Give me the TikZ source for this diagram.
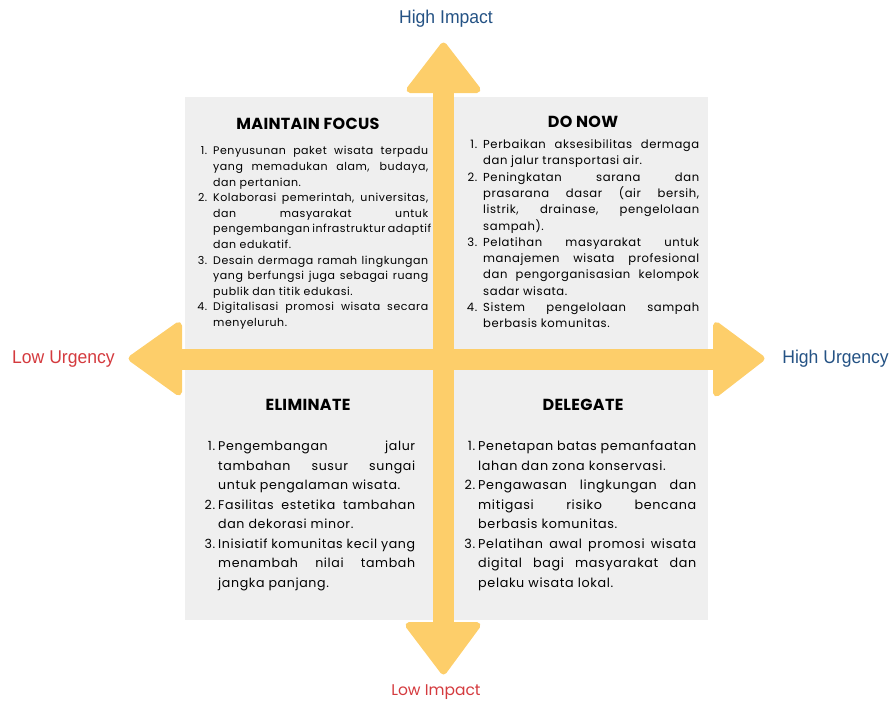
\documentclass[tikz,border=0pt]{standalone}
\usepackage{fontspec}
\usepackage{enumitem}
\setmainfont{Poppins}[LetterSpace=5.0]
\newfontfamily\headfont{Poppins}[LetterSpace=2.0]
\newfontfamily\axisfont{Liberation Sans}[FakeStretch=0.95]
\newfontfamily\lowfont{Poppins}
\usetikzlibrary{positioning}

\definecolor{panelgray}{RGB}{239,239,239}
\definecolor{arrowyellow}{RGB}{253,206,106}
\definecolor{axisblue}{RGB}{36,82,132}
\definecolor{axisred}{RGB}{212,58,62}

\setlist[enumerate]{nosep, label=\arabic*.}

\tikzset{
    arrowfill/.style={fill=arrowyellow, draw=arrowyellow, line width=7pt, line join=round},
    heading/.style={font=\headfont\bfseries\fontsize{16}{18}\selectfont, inner sep=0pt},
    itembox/.style={anchor=north west, inner sep=0pt, align=justify,
        execute at begin node={\hyphenpenalty=10000\exhyphenpenalty=10000}},
    axislabel/.style={font=\axisfont\fontsize{18.5}{20}\selectfont, inner sep=0pt}
}

\begin{document}
\begin{tikzpicture}[x=1pt,y=-1pt]
    \useasboundingbox (0,0) rectangle (891,702);

    \coordinate (c) at (443.5,359.5);

    % grey board
    \fill[panelgray] (185,97) rectangle (708,620);

    % the two axes
    \fill[arrowyellow] (433,90) rectangle (454,626);
    \fill[arrowyellow] (178,349) rectangle (718,370);
    \filldraw[arrowfill] (443.5,46) -- (410,89.5) -- (477,89.5) -- cycle;
    \filldraw[arrowfill] (443.5,671) -- (409,625.5) -- (477,625.5) -- cycle;
    \filldraw[arrowfill] (132,358.5) -- (178.5,325.5) -- (178.5,392) -- cycle;
    \filldraw[arrowfill] (761,358.5) -- (716.5,325.5) -- (716.5,393) -- cycle;

    \node[axislabel, text=axisblue] (hiimpact) at (446,19) {High Impact};
    \node[axislabel, text=axisred, font=\lowfont\fontsize{15.5}{17}\selectfont] (loimpact) at (436,692) {Low Impact};
    \node[axislabel, text=axisred, anchor=west] (lourgency) at (12,359) {Low Urgency};
    \node[axislabel, text=axisblue, anchor=east] (hiurgency) at (889,359) {High Urgency};

    % top left
    \node[heading] (mfhead) at (308,124) {MAINTAIN FOCUS};
    \node[itembox, text width=235pt] (mflist) at (193,139) {%
        \fontsize{11.0}{15.6}\selectfont
        \begin{enumerate}[leftmargin=20pt, labelsep=6pt]
            \item Penyusunan paket wisata terpadu yang memadukan alam, budaya, dan pertanian.
            \item Kolaborasi pemerintah, universitas, dan masyarakat untuk pengembangan infrastruktur adaptif dan edukatif.
            \item Desain dermaga ramah lingkungan yang berfungsi juga sebagai ruang publik dan titik edukasi.
            \item Digitalisasi promosi wisata secara menyeluruh.
        \end{enumerate}};

    % top right
    \node[heading] (dnhead) at (583,122) {DO NOW};
    \node[itembox, text width=238pt] (dnlist) at (461,132) {%
        \fontsize{11.6}{16.3}\selectfont
        \begin{enumerate}[leftmargin=22pt, labelsep=6pt]
            \item Perbaikan aksesibilitas dermaga dan jalur transportasi air.
            \item Peningkatan sarana dan prasarana dasar (air bersih,\linebreak listrik, drainase, pengelolaan sampah).
            \item Pelatihan masyarakat untuk manajemen wisata profesional dan pengorganisasian kelompok sadar wisata.
            \item Sistem pengelolaan sampah berbasis komunitas.
        \end{enumerate}};

    % bottom left
    \node[heading] (elhead) at (308,405) {ELIMINATE};
    \node[itembox, text width=214pt] (ellist) at (201,431) {%
        \fontsize{12.6}{19.5}\selectfont
        \begin{enumerate}[leftmargin=17pt, labelsep=3pt]
            \item Pengembangan jalur tambahan susur sungai untuk pengalaman wisata.
            \item Fasilitas estetika tambahan dan dekorasi minor.
            \item Inisiatif komunitas kecil yang menambah nilai tambah jangka panjang.
        \end{enumerate}};

    % bottom right
    \node[heading] (dlhead) at (583,405) {DELEGATE};
    \node[itembox, text width=234pt] (dllist) at (462,431) {%
        \fontsize{12.75}{19.5}\selectfont
        \begin{enumerate}[leftmargin=16pt, labelsep=3pt]
            \item Penetapan batas pemanfaatan lahan dan zona konservasi.
            \item Pengawasan lingkungan dan\linebreak mitigasi risiko bencana\linebreak berbasis komunitas.
            \item Pelatihan awal promosi wisata digital bagi masyarakat dan pelaku wisata lokal.
        \end{enumerate}};
\end{tikzpicture}
\end{document}
